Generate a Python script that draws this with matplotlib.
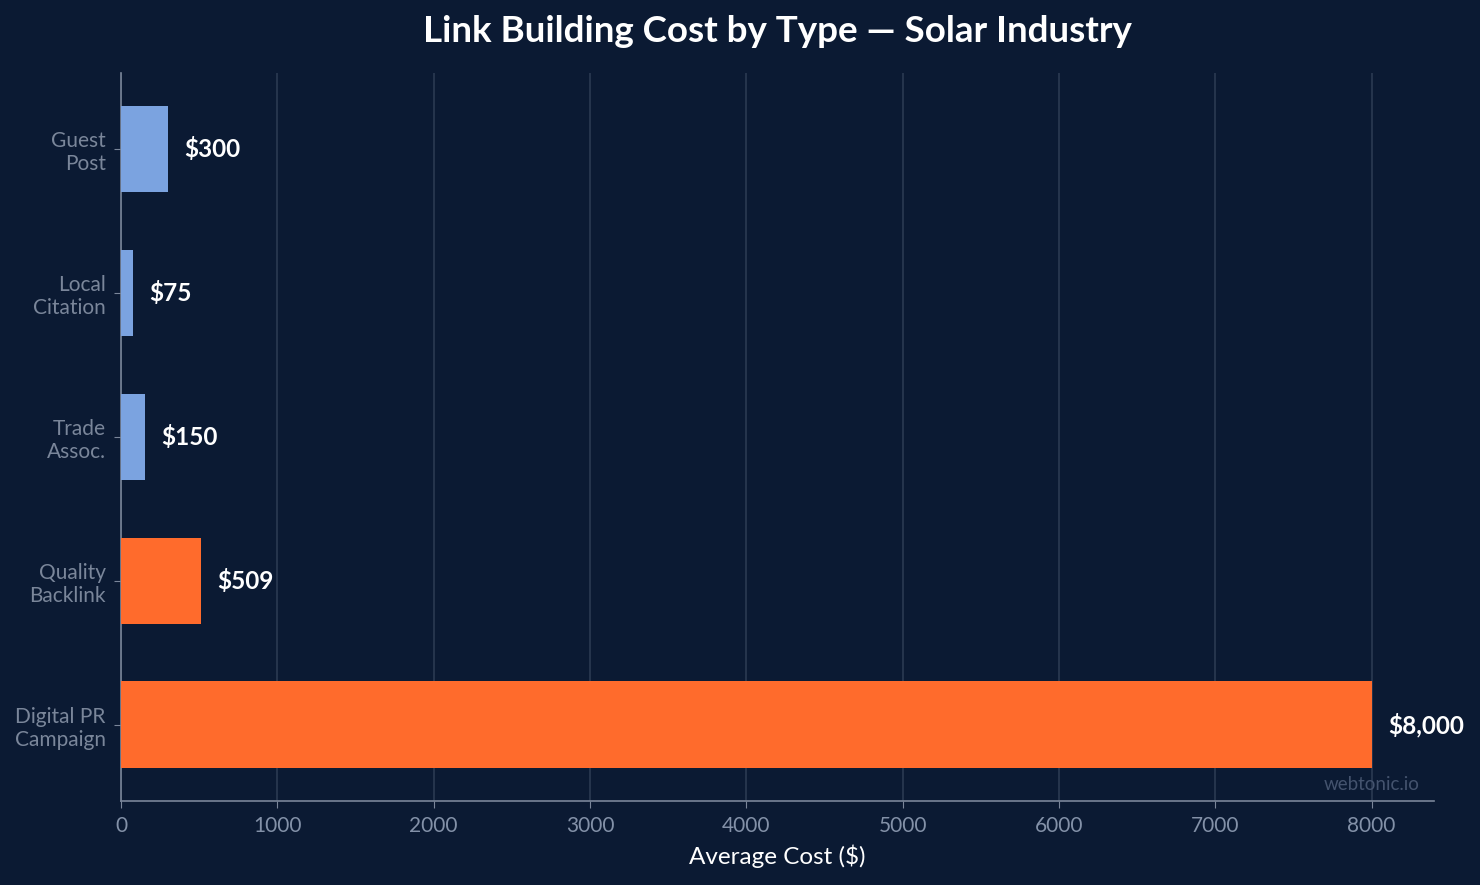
import matplotlib
matplotlib.use('Agg')
import matplotlib.pyplot as plt

plt.rcParams['font.family'] = ['Lato', 'DejaVu Sans']

categories = ['Guest\nPost', 'Local\nCitation', 'Trade\nAssoc.', 'Quality\nBacklink', 'Digital PR\nCampaign']
costs = [300, 75, 150, 509, 8000]
labels = ['$300', '$75', '$150', '$509', '$8,000']
bar_colors = ['#7BA3E0', '#7BA3E0', '#7BA3E0', '#FF6B2C', '#FF6B2C']

bg = '#0B1A33'
muted = '#8391A8'
spine_col = '#7A869A'

fig, ax = plt.subplots(figsize=(14.8, 8.85), dpi=100, facecolor=bg)
ax.set_facecolor(bg)
fig.subplots_adjust(left=0.0818, right=0.969, top=0.918, bottom=0.095)

pos = list(range(len(categories)))
bars = ax.barh(pos, costs, height=0.6, color=bar_colors, zorder=3)
ax.invert_yaxis()
ax.set_yticks(pos)
ax.set_yticklabels(categories, color=muted, fontsize=15, linespacing=1.18)

for b, lab in zip(bars, labels):
    ax.annotate(lab, xy=(b.get_width(), b.get_y() + b.get_height() / 2),
                xytext=(12, 0), textcoords='offset points', va='center', ha='left',
                color='white', fontsize=17.5, fontweight='bold')

ax.set_xlim(0, 8400)
ax.set_xticks(range(0, 9000, 1000))
ax.tick_params(axis='x', colors=spine_col, labelcolor=muted, labelsize=15, length=5, pad=6)
ax.tick_params(axis='y', colors=spine_col, length=5, pad=6)
ax.grid(axis='x', color='#2B3A52', linewidth=1.2, zorder=0)
ax.set_axisbelow(True)

for side in ['top', 'right']:
    ax.spines[side].set_visible(False)
for side in ['left', 'bottom']:
    ax.spines[side].set_color(spine_col)
    ax.spines[side].set_linewidth(1.2)

ax.set_xlabel('Average Cost ($)', color='white', fontsize=17.5, labelpad=6)
ax.set_title('Link Building Cost by Type \u2014 Solar Industry', color='white',
             fontsize=26.5, fontweight='bold', pad=22)

ax.text(0.9886, 0.011, 'webtonic.io', transform=ax.transAxes, ha='right', va='bottom',
        color='#44536E', fontsize=13.5)

fig.savefig('out.png', dpi=100, facecolor=bg)
